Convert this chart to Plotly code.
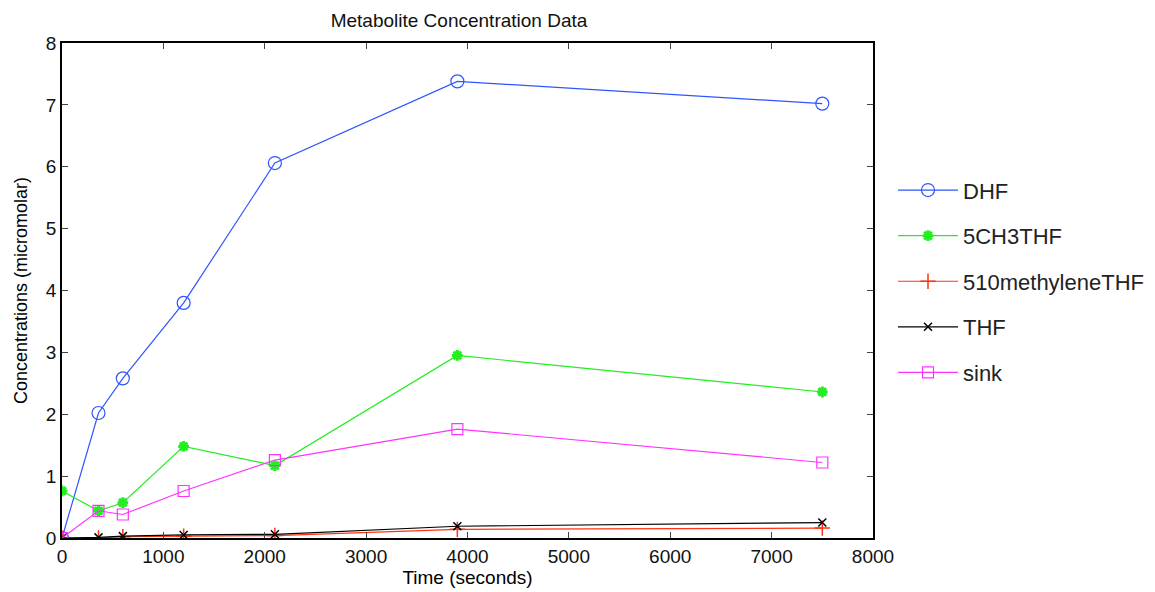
import plotly.graph_objects as go

time_s = [0, 360, 600, 1200, 2100, 3900, 7500]
dhf = [0.0, 2.02, 2.58, 3.80, 6.06, 7.38, 7.02]
ch3thf = [0.76, 0.44, 0.57, 1.48, 1.17, 2.95, 2.36]
methylene = [0.0, 0.0, 0.02, 0.03, 0.04, 0.14, 0.16]
thf = [0.0, 0.01, 0.03, 0.05, 0.06, 0.19, 0.25]
sink = [0.0, 0.44, 0.38, 0.76, 1.26, 1.76, 1.22]

series = [
    ("DHF", dhf, "#2f55ff", "circle-open", 13, 1.2),
    ("5CH3THF", ch3thf, "#22ee22", "asterisk-open", 9, 3),
    ("510methyleneTHF", methylene, "#ff3311", "cross-thin-open", 11, 1.5),
    ("THF", thf, "#000000", "x-thin-open", 8, 1.5),
    ("sink", sink, "#ff33ff", "square-open", 11, 1.2),
]

fig = go.Figure()
for i, (name, vals, color, sym, size, mlw) in enumerate(series):
    fig.add_trace(go.Scatter(
        x=time_s, y=vals, name=name, mode="lines+markers",
        legendgroup=f"g{i}",
        line=dict(color=color, width=1.2),
        marker=dict(symbol=sym, size=size, color=color, line=dict(color=color, width=mlw)),
    ))

font = "Liberation Sans, Arial, sans-serif"
fig.update_layout(
    width=1155, height=592,
    margin=dict(l=62, r=282, t=43, b=54, autoexpand=False),
    paper_bgcolor="white", plot_bgcolor="white",
    title=dict(text="Metabolite Concentration Data", x=(459 - 62) / 811, xref="paper", xanchor="center",
               y=1 - 20 / 592, yanchor="middle", font=dict(family=font, size=19, color="#111")),
    font=dict(family=font, size=18, color="black"),
    legend=dict(x=(893 - 62) / 811, y=0.745, xanchor="left", yanchor="top",
                tracegroupgap=14, font=dict(size=22, color="#222"),
                bgcolor="rgba(0,0,0,0)", itemwidth=60),
    showlegend=True,
)
fig.update_xaxes(range=[0, 8000], tickvals=[0, 1000, 2000, 3000, 4000, 5000, 6000, 7000, 8000],
                 ticks="inside", ticklen=6, showline=True, linecolor="black", linewidth=1.5,
                 mirror="ticks", showgrid=False, zeroline=False,
                 title=dict(text="Time (seconds)", font=dict(size=19), standoff=5),
                 tickfont=dict(size=19, color="#111"))
fig.update_yaxes(range=[0, 8], tickvals=list(range(0, 9)),
                 ticks="inside", ticklen=6, showline=True, linecolor="black", linewidth=1.5,
                 mirror="ticks", showgrid=False, zeroline=False,
                 title=dict(text="Concentrations (micromolar)", font=dict(size=18), standoff=14),
                 tickfont=dict(size=19, color="#111"))

fig.write_html("out.html")
